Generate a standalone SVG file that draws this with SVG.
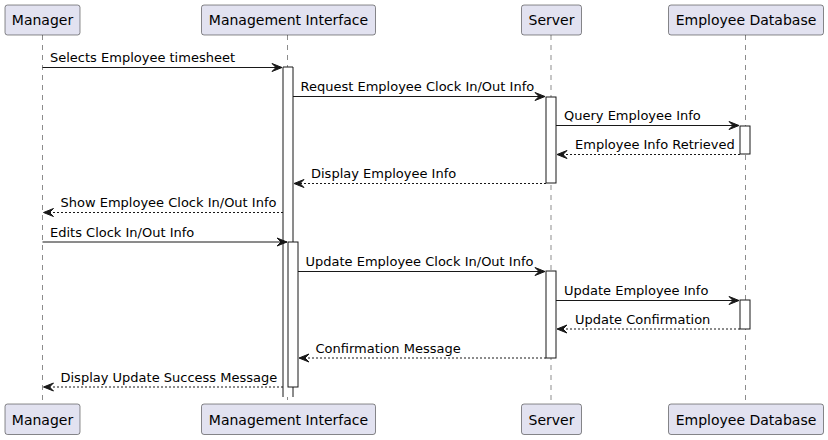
<svg xmlns="http://www.w3.org/2000/svg" width="828" height="440" viewBox="0 0 828 440">
<style>
.box{fill:#E2E2F0;stroke:#181818;stroke-width:0.5}
.pt{font-family:"DejaVu Sans",sans-serif;font-size:14px;fill:#000}
.life{stroke:#181818;stroke-width:0.5;stroke-dasharray:5,5;fill:none}
.act{fill:#FFFFFF;stroke:#181818;stroke-width:1}
.msg{stroke:#181818;stroke-width:1;fill:none}
.ret{stroke:#181818;stroke-width:1;fill:none;stroke-dasharray:2,2}
.ml{font-family:"DejaVu Sans",sans-serif;font-size:13px;fill:#000}
.ah{fill:#181818;stroke:#181818;stroke-width:1}
</style>
<rect width="828" height="440" fill="#FFFFFF"/>
<g id="lifelines">
<line class="life" x1="42.5" y1="35" x2="42.5" y2="404"/>
<line class="life" x1="287.5" y1="35" x2="287.5" y2="404"/>
<line class="life" x1="551" y1="35" x2="551" y2="404"/>
<line class="life" x1="745.5" y1="35" x2="745.5" y2="404"/>
</g>
<g id="activations">
<rect x="283" y="67" width="10" height="330" fill="#FFFFFF"/>
<path d="M283,397 V67 H293 V397" fill="none" stroke="#181818" stroke-width="1"/>
<rect class="act" x="288" y="242" width="10" height="145"/>
<rect class="act" x="546" y="97" width="10" height="86"/>
<rect class="act" x="546" y="271" width="10" height="87"/>
<rect class="act" x="740" y="126" width="10" height="28"/>
<rect class="act" x="740" y="300" width="10" height="29"/>
</g>
<g id="p-manager">
<rect class="box" x="5" y="5" width="75" height="30" rx="2.5"/>
<text class="pt" x="42.5" y="25" text-anchor="middle">Manager</text>
<rect class="box" x="5" y="404" width="75" height="30.5" rx="2.5"/>
<text class="pt" x="42.5" y="424.5" text-anchor="middle">Manager</text>
</g>
<g id="p-interface">
<rect class="box" x="201.5" y="5" width="174" height="30" rx="2.5"/>
<text class="pt" x="288.5" y="25" text-anchor="middle">Management Interface</text>
<rect class="box" x="201.5" y="404" width="174" height="30.5" rx="2.5"/>
<text class="pt" x="288.5" y="424.5" text-anchor="middle">Management Interface</text>
</g>
<g id="p-server">
<rect class="box" x="521.5" y="5" width="60" height="30" rx="2.5"/>
<text class="pt" x="551.5" y="25" text-anchor="middle">Server</text>
<rect class="box" x="521.5" y="404" width="60" height="30.5" rx="2.5"/>
<text class="pt" x="551.5" y="424.5" text-anchor="middle">Server</text>
</g>
<g id="p-database">
<rect class="box" x="668.5" y="5" width="155" height="30" rx="2.5"/>
<text class="pt" x="746" y="25" text-anchor="middle">Employee Database</text>
<rect class="box" x="668.5" y="404" width="155" height="30.5" rx="2.5"/>
<text class="pt" x="746" y="424.5" text-anchor="middle">Employee Database</text>
</g>
<g id="connectors">
<line class="msg" x1="42.5" y1="67.5" x2="282" y2="67.5"/>
<polygon class="ah" points="272,63.5 282,67.5 272,71.5 276,67.5"/>
<text class="ml" x="50" y="62">Selects Employee timesheet</text>
<line class="msg" x1="293" y1="96.5" x2="545" y2="96.5"/>
<polygon class="ah" points="535,92.5 545,96.5 535,100.5 539,96.5"/>
<text class="ml" x="300.5" y="91">Request Employee Clock In/Out Info</text>
<line class="msg" x1="556" y1="125.5" x2="739" y2="125.5"/>
<polygon class="ah" points="729,121.5 739,125.5 729,129.5 733,125.5"/>
<text class="ml" x="564" y="120">Query Employee Info</text>
<line class="ret" x1="740" y1="154.5" x2="557" y2="154.5"/>
<polygon class="ah" points="567,150.5 557,154.5 567,158.5 563,154.5"/>
<text class="ml" x="575" y="149">Employee Info Retrieved</text>
<line class="ret" x1="546" y1="183.5" x2="294" y2="183.5"/>
<polygon class="ah" points="304,179.5 294,183.5 304,187.5 300,183.5"/>
<text class="ml" x="311" y="178">Display Employee Info</text>
<line class="ret" x1="283" y1="212.5" x2="43.5" y2="212.5"/>
<polygon class="ah" points="53.5,208.5 43.5,212.5 53.5,216.5 49.5,212.5"/>
<text class="ml" x="60.5" y="207">Show Employee Clock In/Out Info</text>
<line class="msg" x1="42.5" y1="242" x2="287" y2="242"/>
<polygon class="ah" points="277,238 287,242 277,246 281,242"/>
<text class="ml" x="50" y="236.5">Edits Clock In/Out Info</text>
<line class="msg" x1="298" y1="271.5" x2="545" y2="271.5"/>
<polygon class="ah" points="535,267.5 545,271.5 535,275.5 539,271.5"/>
<text class="ml" x="305.5" y="266">Update Employee Clock In/Out Info</text>
<line class="msg" x1="556" y1="300.5" x2="739" y2="300.5"/>
<polygon class="ah" points="729,296.5 739,300.5 729,304.5 733,300.5"/>
<text class="ml" x="564" y="295">Update Employee Info</text>
<line class="ret" x1="740" y1="329" x2="557" y2="329"/>
<polygon class="ah" points="567,325 557,329 567,333 563,329"/>
<text class="ml" x="575" y="323.5">Update Confirmation</text>
<line class="ret" x1="546" y1="358" x2="299" y2="358"/>
<polygon class="ah" points="309,354 299,358 309,362 305,358"/>
<text class="ml" x="315.5" y="352.5">Confirmation Message</text>
<line class="ret" x1="283" y1="387" x2="43.5" y2="387"/>
<polygon class="ah" points="53.5,383 43.5,387 53.5,391 49.5,387"/>
<text class="ml" x="60.5" y="381.5">Display Update Success Message</text>
</g>
</svg>
